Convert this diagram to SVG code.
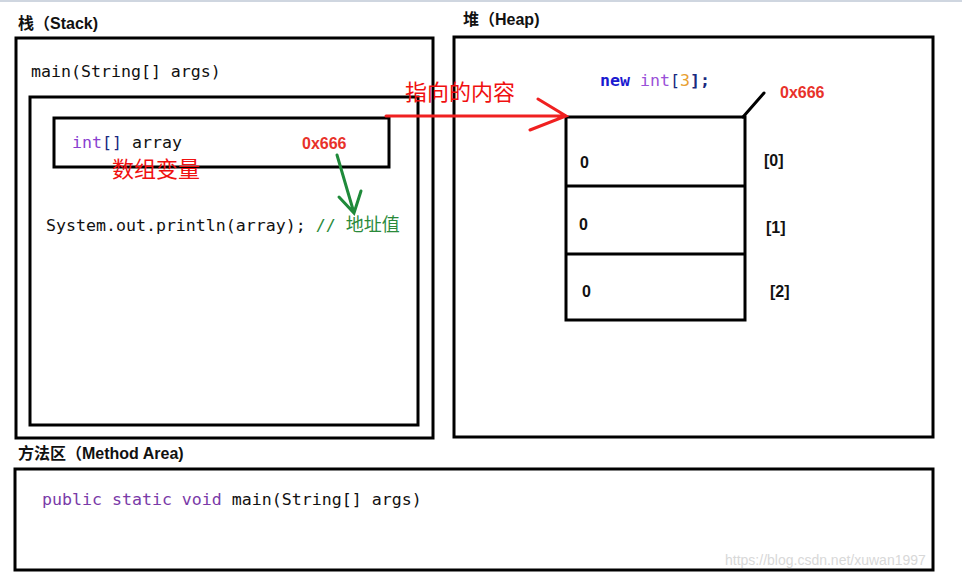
<svg xmlns="http://www.w3.org/2000/svg" width="962" height="577" viewBox="0 0 962 577">
<style>
.box{fill:none;stroke:#000;stroke-width:3}
.h{font-family:"Liberation Sans","Noto Sans CJK SC",sans-serif;font-weight:bold;font-size:16px;fill:#111}
.code{font-family:"DejaVu Sans Mono","Liberation Mono",monospace;font-size:16.6px;fill:#111}
.red{font-family:"Liberation Sans",sans-serif;font-weight:bold;font-size:16px;fill:#e8322a}
.cn{font-family:"Noto Sans CJK SC",sans-serif;font-size:22px;fill:#f01010}
.idx{font-family:"Liberation Sans",sans-serif;font-weight:bold;font-size:16px;fill:#111}
</style>
<rect width="962" height="577" fill="#fff"/>
<line x1="0" y1="1" x2="962" y2="1" stroke="#cfd6e0" stroke-width="2"/>
<g id="stack">
<text class="h" x="18" y="29">栈（Stack)</text>
<rect class="box" x="16" y="38" width="417" height="400"/>
<text class="code" x="31" y="77">main(String[] args)</text>
<rect class="box" x="30" y="97" width="388" height="328"/>
</g>
<g id="array-var">
<rect class="box" x="54" y="118" width="335" height="49"/>
<text class="code" x="72" y="148"><tspan fill="#8a3fd0">int</tspan><tspan fill="#1a2a80">[]</tspan> array</text>
<text class="red" x="302" y="149">0x666</text>
<text class="cn" x="112" y="177">数组变量</text>
</g>
<g id="println">
<text class="code" x="46" y="231">System.out.println(array); <tspan fill="#2a8a3a">// </tspan><tspan fill="#2a8a3a" font-family="Noto Sans CJK SC,sans-serif" font-size="18">地址值</tspan></text>
</g>
<g id="heap">
<text class="h" x="463" y="25">堆（Heap)</text>
<rect class="box" x="454" y="37" width="479" height="400"/>
<text class="code" x="600" y="86" style="font-weight:bold"><tspan fill="#1a1ad0">new</tspan> <tspan fill="#9a50d8" font-weight="normal">int</tspan><tspan fill="#1a2a80" font-weight="normal">[</tspan><tspan fill="#e8a030" font-weight="normal">3</tspan><tspan fill="#1a2a80">];</tspan></text>
<text class="red" x="780" y="98">0x666</text>
</g>
<g id="array">
<rect class="box" x="566" y="117" width="179" height="203"/>
<line x1="566" y1="186" x2="745" y2="186" stroke="#000" stroke-width="3"/>
<line x1="566" y1="254" x2="745" y2="254" stroke="#000" stroke-width="3"/>
<text class="idx" x="580" y="168">0</text>
<text class="idx" x="579" y="230">0</text>
<text class="idx" x="582" y="297">0</text>
<text class="idx" x="764" y="166">[0]</text>
<text class="idx" x="766" y="233">[1]</text>
<text class="idx" x="770" y="297">[2]</text>
</g>
<g id="method-area">
<text class="h" x="18" y="459">方法区（Method Area)</text>
<rect class="box" x="15" y="469" width="918" height="101"/>
<text class="code" x="42" y="505"><tspan fill="#7a3aa8">public static void</tspan> main(String[] args)</text>
</g>
<g id="connectors" fill="none" stroke-linecap="round">
<text class="cn" x="405" y="100">指向的内容</text>
<path d="M386 116H566M538 99L566 116L530 130" stroke="#f02020" stroke-width="3"/>
<path d="M337 155L354 213M339 197L354 213L361 191" stroke="#1f8a3a" stroke-width="3"/>
<path d="M743 117L764 93" stroke="#000" stroke-width="3"/>
</g>
<text x="725" y="565" font-family="Liberation Sans,sans-serif" font-size="14" fill="#d8d8d8">https://blog.csdn.net/xuwan1997</text>
</svg>
